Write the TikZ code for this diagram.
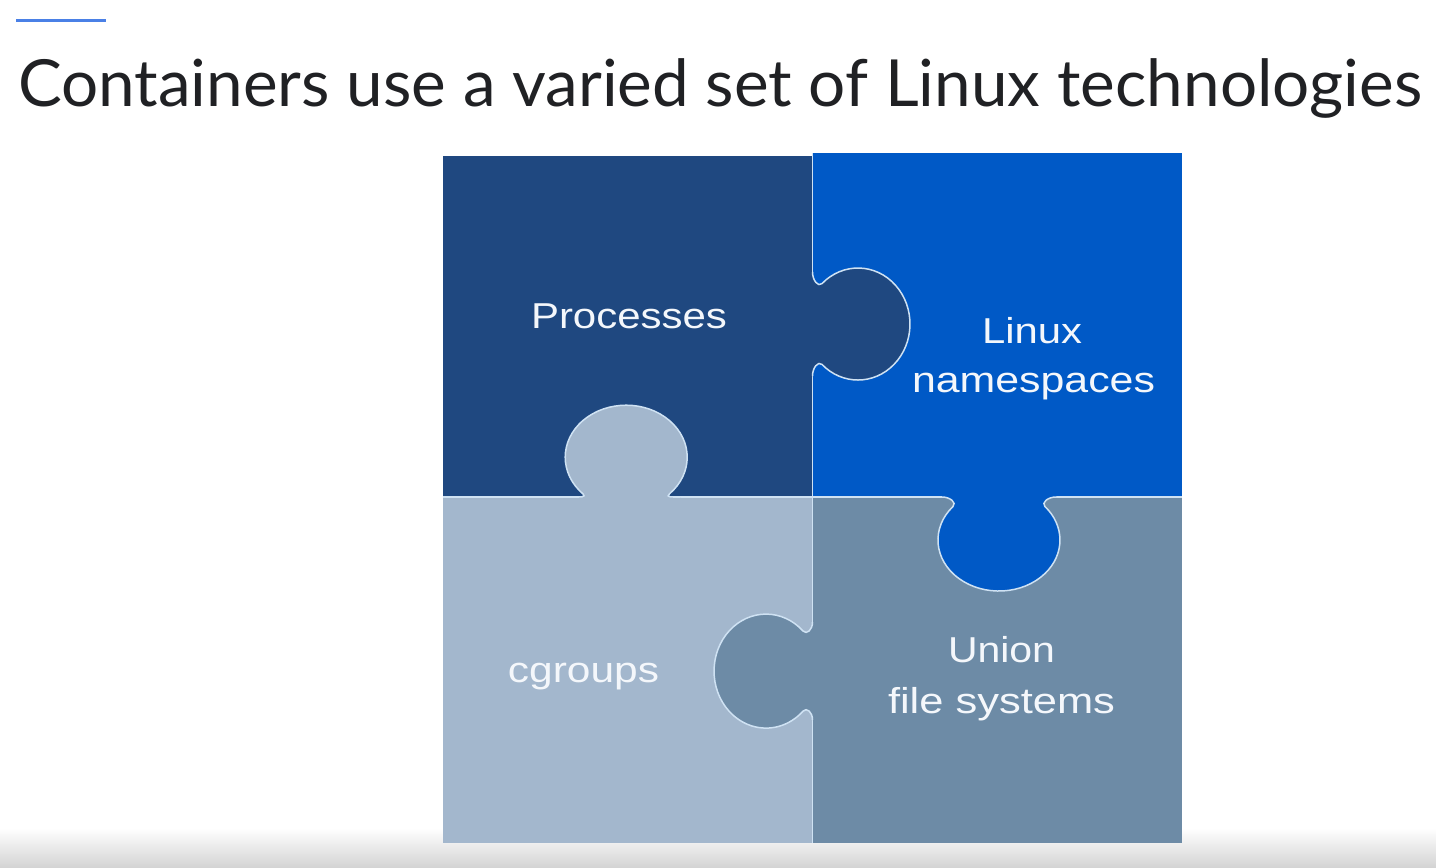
\documentclass[tikz,border=0pt]{standalone}
\usepackage{fontspec}
\usepackage{graphicx}
\setmainfont{Liberation Sans}
\newfontfamily\titlefont{Lato}
\definecolor{titlec}{HTML}{202124}
\definecolor{accent}{HTML}{4A80E6}
\definecolor{tlc}{HTML}{1F4880}
\definecolor{trc}{HTML}{0059C6}
\definecolor{blc}{HTML}{A3B7CD}
\definecolor{brc}{HTML}{6D8BA6}
\definecolor{edgec}{HTML}{CFE2F3}
\definecolor{labelc}{HTML}{F4F7FB}
\definecolor{floorc}{HTML}{D3D3D3}
\begin{document}
\begin{tikzpicture}[x=1pt,y=-1pt,
  edge/.style={draw=edgec,line width=1.5pt,line join=round},
  lbl/.style={text=labelc,inner sep=0pt,anchor=base,font=\fontsize{36}{40}\selectfont}]
\useasboundingbox (0,0) rectangle (1436,868);
\fill[white] (0,0) rectangle (1436,868);
\shade[top color=white,bottom color=floorc] (0,828) rectangle (1436,868);
% accent line
\coordinate (accL) at (16,20);
\coordinate (accR) at (106,20);
\draw[accent,line width=3pt] (accL) -- (accR);
% title
\node[anchor=base west,inner sep=0pt,text=titlec,font=\titlefont\fontsize{65}{70}\selectfont] (title) at (18,106)
  {\resizebox{1404pt}{\height}{Containers use a varied set of Linux technologies}};
% puzzle squares
\fill[tlc] (443,156) rectangle (812.5,497);
\fill[trc] (812.5,153) rectangle (1182,497);
\fill[blc] (443,497) rectangle (812.5,843);
\fill[brc] (812.5,497) rectangle (1182,843);
% separating lines
\draw[edge] (812.5,153) -- (812.5,843);
\draw[edge] (443,497) -- (1182,497);
% tab 1: Processes -> right
\fill[tlc] (812.5,272) .. controls (812.5,280) and (818,287.5) .. (822,283.6)
  arc[start angle=226.2,end angle=493.8,x radius=52,y radius=56]
  .. controls (818,360.5) and (812.5,368) .. (812.5,376) -- (808,376) -- (808,272) -- cycle;
\draw[edge] (812.5,272) .. controls (812.5,280) and (818,287.5) .. (822,283.6)
  arc[start angle=226.2,end angle=493.8,x radius=52,y radius=56]
  .. controls (818,360.5) and (812.5,368) .. (812.5,376);
% tab 2: cgroups -> up
\fill[blc] (572,497) .. controls (580,497) and (587,497.5) .. (583,493.9)
  arc[start angle=135.1,end angle=404.9,x radius=61,y radius=52]
  .. controls (665,497.5) and (672,497) .. (680,497) -- (680,501) -- (572,501) -- cycle;
\draw[edge] (572,497) .. controls (580,497) and (587,497.5) .. (583,493.9)
  arc[start angle=135.1,end angle=404.9,x radius=61,y radius=52]
  .. controls (665,497.5) and (672,497) .. (680,497);
% tab 3: namespaces -> down
\fill[trc] (942,497) .. controls (950,497) and (957,502.6) .. (953,506.5)
  arc[start angle=221.1,end angle=-41.1,x radius=61,y radius=51]
  .. controls (1041,502.6) and (1048,497) .. (1056,497) -- (1056,493) -- (942,493) -- cycle;
\draw[edge] (942,497) .. controls (950,497) and (957,502.6) .. (953,506.5)
  arc[start angle=221.1,end angle=-41.1,x radius=61,y radius=51]
  .. controls (1041,502.6) and (1048,497) .. (1056,497);
% tab 4: union fs -> left
\fill[brc] (812.5,622) .. controls (812.5,630) and (806.7,635) .. (803,631)
  arc[start angle=315.3,end angle=44.7,x radius=52,y radius=57]
  .. controls (806.7,707) and (812.5,712) .. (812.5,720) -- (817,720) -- (817,622) -- cycle;
\draw[edge] (812.5,622) .. controls (812.5,630) and (806.7,635) .. (803,631)
  arc[start angle=315.3,end angle=44.7,x radius=52,y radius=57]
  .. controls (806.7,707) and (812.5,712) .. (812.5,720);
% labels
\node[lbl] (proc) at (629,328) {\resizebox{196pt}{\height}{Processes}};
\node[lbl] (ns1) at (1032,343) {\resizebox{100pt}{\height}{Linux}};
\node[lbl] (ns2) at (1033.5,392) {\resizebox{243pt}{\height}{namespaces}};
\node[lbl] (cg) at (583.5,682) {\resizebox{151pt}{\height}{cgroups}};
\node[lbl] (ufs1) at (1001.5,662) {\resizebox{107pt}{\height}{Union}};
\node[lbl] (ufs2) at (1001.5,713) {\resizebox{227pt}{\height}{file systems}};
\end{tikzpicture}
\end{document}
